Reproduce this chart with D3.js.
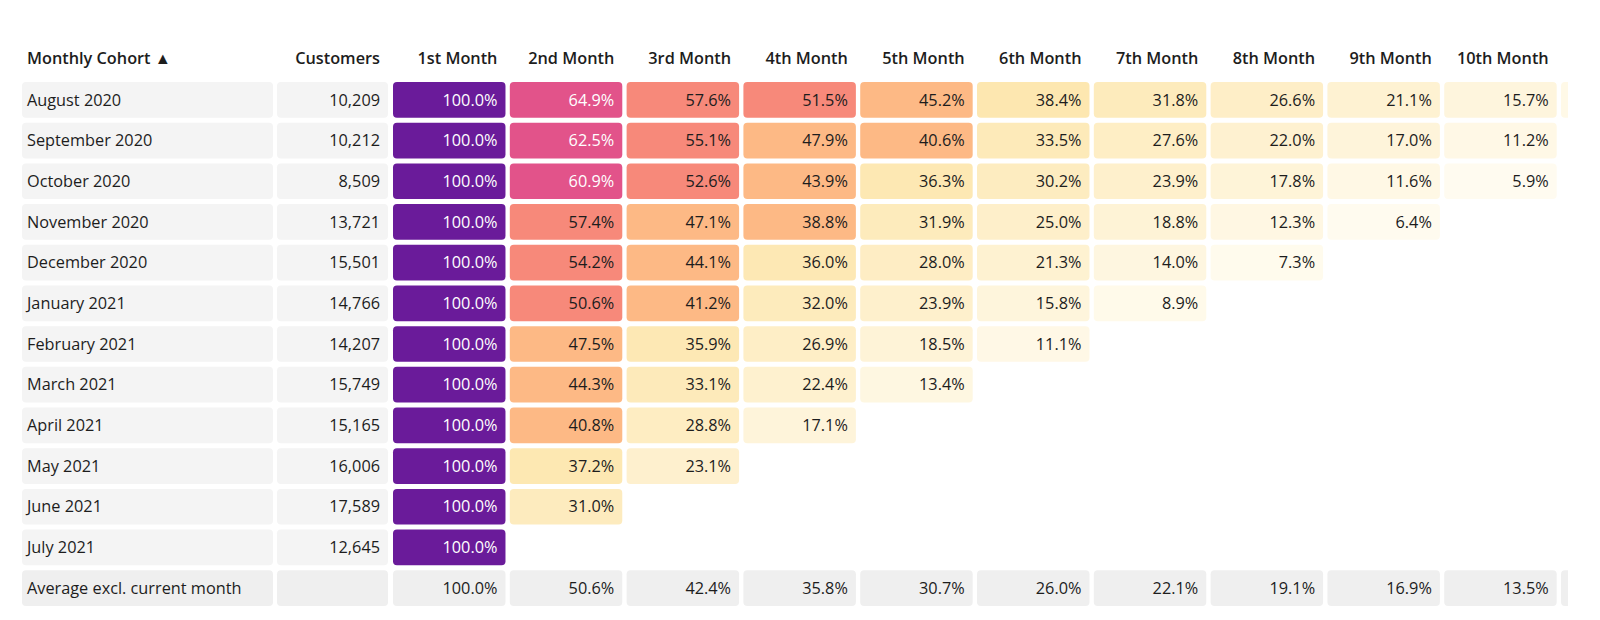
<!DOCTYPE html>
<html>
<head>
<meta charset="utf-8">
<script src="https://cdn.jsdelivr.net/npm/d3@7/dist/d3.min.js"></script>
<style>
  body { margin: 0; background: #fff; }
  svg { display: block; font-family: "Open Sans", "Noto Sans", sans-serif; }
</style>
</head>
<body>
<svg id="chart" width="1600" height="620"></svg>
<script>
'use strict';

/* monthly cohort retention table */

var cohorts = ['August 2020', 'September 2020', 'October 2020', 'November 2020', 'December 2020',
    'January 2021', 'February 2021', 'March 2021', 'April 2021', 'May 2021', 'June 2021', 'July 2021'];
var customers = [10209, 10212, 8509, 13721, 15501, 14766, 14207, 15749, 15165, 16006, 17589, 12645];
var months = ['1st Month', '2nd Month', '3rd Month', '4th Month', '5th Month', '6th Month',
    '7th Month', '8th Month', '9th Month', '10th Month', '11th Month'];

var retAug = [100, 64.9, 57.6, 51.5, 45.2, 38.4, 31.8, 26.6, 21.1, 15.7, 10.4];
var retSep = [100, 62.5, 55.1, 47.9, 40.6, 33.5, 27.6, 22.0, 17.0, 11.2];
var retOct = [100, 60.9, 52.6, 43.9, 36.3, 30.2, 23.9, 17.8, 11.6, 5.9];
var retNov = [100, 57.4, 47.1, 38.8, 31.9, 25.0, 18.8, 12.3, 6.4];
var retDec = [100, 54.2, 44.1, 36.0, 28.0, 21.3, 14.0, 7.3];
var retJan = [100, 50.6, 41.2, 32.0, 23.9, 15.8, 8.9];
var retFeb = [100, 47.5, 35.9, 26.9, 18.5, 11.1];
var retMar = [100, 44.3, 33.1, 22.4, 13.4];
var retApr = [100, 40.8, 28.8, 17.1];
var retMay = [100, 37.2, 23.1];
var retJun = [100, 31.0];
var retJul = [100];
var average = [100, 50.6, 42.4, 35.8, 30.7, 26.0, 22.1, 19.1, 16.9, 13.5, 10.4];

var retention = [retAug, retSep, retOct, retNov, retDec, retJan, retFeb, retMar, retApr, retMay, retJun, retJul];
var avgLabel = 'Average excl. current month';

var svg = d3.select('#chart');
var rowKeys = cohorts.concat([avgLabel]);
var clipW = 1568; //table is scrolled, last column cut at the edge

//rows and month columns
var y = d3.scaleBand().domain(rowKeys).range([82, 606]).paddingInner(0.123).paddingOuter(0);
var x = d3.scaleBand().domain(months).range([393, 1673.5]).paddingInner(0.037).paddingOuter(0);

var labelX = 22, labelW = 251;
var custX = 277, custW = 111;
var fs = 16.3;

//color: purple for 100%, then stepped warm colors, fading to cream
var fade = d3.scaleLinear().domain([5, 38]).range(['#fffcf2', '#fde7b0']).clamp(true);
function cellColor(v) {
    if (v >= 100) return '#6a1b9a';
    if (v >= 60) return '#e2538a';
    if (v >= 50) return '#f7897a';
    if (v >= 38.5) return '#fdb985';
    return fade(v);
}
function textColor(v) { return v >= 60 ? '#ffffff' : '#1d1d1d'; }
var pct = function (v) { return d3.format('.1f')(v) + '%'; };
//only label cells whose text would be inside the visible area
var visible = function (d, j) { return x(months[j]) + x.bandwidth() - 8 < clipW; };

svg.append('clipPath').attr('id', 'clip')
    .append('rect').attr('x', 0).attr('y', 0).attr('width', clipW).attr('height', 620);

var g = svg.append('g').attr('clip-path', 'url(#clip)');

//header
var header = g.append('g').attr('font-size', fs).attr('font-weight', 600).attr('fill', '#1d1d1d');
header.append('text').attr('x', labelX + 5).attr('y', 64).text('Monthly Cohort \u25B2');
header.append('text').attr('x', custX + custW - 8).attr('y', 64).attr('text-anchor', 'end').text('Customers');
header.selectAll('text.month').data(months.filter(visible)).enter().append('text')
    .attr('class', 'month')
    .attr('x', function (d) { return x(d) + x.bandwidth() - 8; })
    .attr('y', 64)
    .attr('text-anchor', 'end')
    .text(function (d) { return d; });

//one group per row
var rows = g.selectAll('g.row').data(rowKeys).enter().append('g')
    .attr('class', 'row')
    .attr('font-size', fs);

rows.each(function (key, i) {
    var row = d3.select(this);
    var isAvg = key === avgLabel;
    var bg = isAvg ? '#efefef' : '#f4f4f4';
    var top = y(key), h = y.bandwidth(), mid = top + h / 2;

    row.append('rect').attr('x', labelX).attr('y', top).attr('width', labelW).attr('height', h)
        .attr('rx', 4).attr('fill', bg);
    row.append('text').attr('x', labelX + 5).attr('y', mid).attr('dy', '0.35em')
        .attr('fill', '#1d1d1d').text(key);

    row.append('rect').attr('x', custX).attr('y', top).attr('width', custW).attr('height', h)
        .attr('rx', 4).attr('fill', bg);
    if (!isAvg) {
        row.append('text').attr('x', custX + custW - 8).attr('y', mid).attr('dy', '0.35em')
            .attr('text-anchor', 'end').attr('fill', '#1d1d1d')
            .text(d3.format(',')(customers[i]));
    }

    var vals = isAvg ? average : retention[i];
    row.selectAll('rect.cell').data(vals).enter().append('rect')
        .attr('class', 'cell')
        .attr('x', function (d, j) { return x(months[j]); })
        .attr('y', top)
        .attr('width', x.bandwidth())
        .attr('height', h)
        .attr('rx', 4)
        .attr('fill', function (d) { return isAvg ? '#efefef' : cellColor(d); });
    row.selectAll('text.val').data(vals.filter(visible)).enter().append('text')
        .attr('class', 'val')
        .attr('x', function (d, j) { return x(months[j]) + x.bandwidth() - 8; })
        .attr('y', mid)
        .attr('dy', '0.35em')
        .attr('text-anchor', 'end')
        .attr('fill', function (d) { return isAvg ? '#1d1d1d' : textColor(d); })
        .text(pct);
});
</script>
</body>
</html>
